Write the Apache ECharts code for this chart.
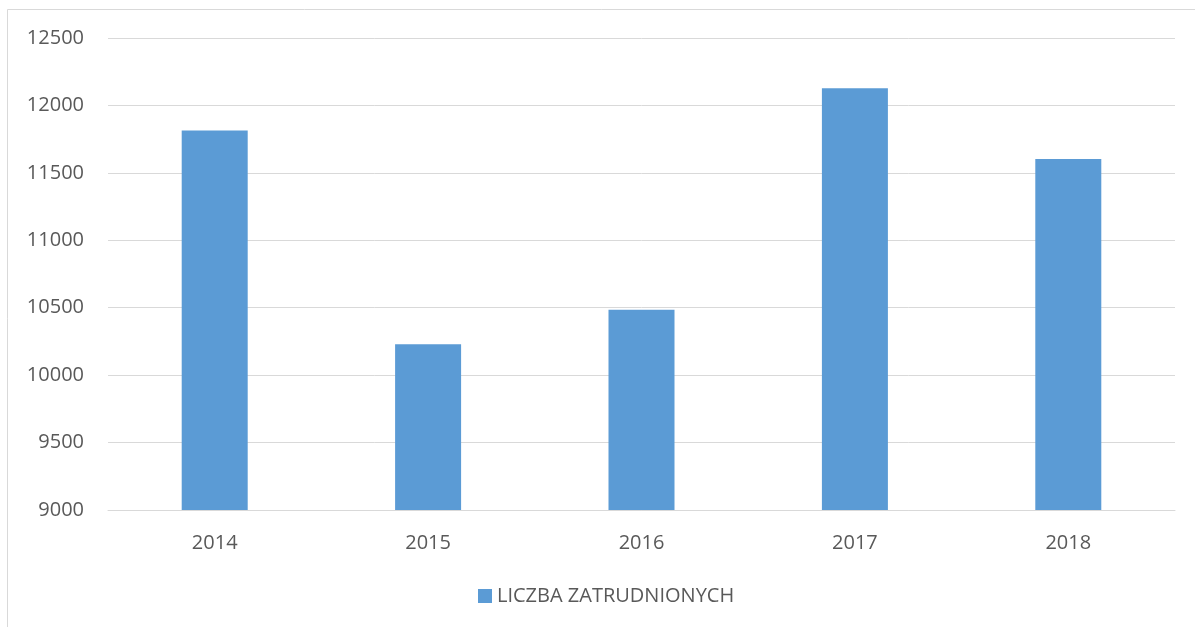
<!DOCTYPE html>
<html>
<head>
<meta charset="utf-8">
<script src="https://cdn.jsdelivr.net/npm/echarts@6/dist/echarts.min.js"></script>
<style>
  html, body { margin: 0; padding: 0; background: #ffffff; }
  #chart { width: 1195px; height: 627px; }
</style>
</head>
<body>
<div id="chart"></div>
<script>
// Employment counts by year
const years = ['2014', '2015', '2016', '2017', '2018'];
const employed = [11815, 10230, 10485, 12127, 11603];
const seriesName = 'LICZBA ZATRUDNIONYCH';

const FONT = '"Open Sans", Lato, sans-serif';
const TEXT_COLOR = '#595959';
const GRID_COLOR = '#D9D9D9';

const chart = echarts.init(document.getElementById('chart'), null, { renderer: 'canvas' });

chart.setOption({
  backgroundColor: '#ffffff',
  animation: false,
  graphic: [{
    type: 'rect',
    shape: { x: 7.5, y: 9.5, width: 1200, height: 640 },
    style: { fill: 'none', stroke: GRID_COLOR, lineWidth: 1 },
    silent: true,
    z: -1
  }],
  grid: { left: 108, right: 20, top: 38, bottom: 117, containLabel: false },
  legend: {
    left: 473,
    top: 581,
    icon: 'rect',
    itemWidth: 14,
    itemHeight: 14,
    itemGap: 8,
    textStyle: { color: TEXT_COLOR, fontFamily: FONT, fontSize: 20 },
    data: [seriesName]
  },
  xAxis: {
    type: 'category',
    data: years,
    axisLine: { show: true, lineStyle: { color: GRID_COLOR, width: 1 } },
    axisTick: { show: false },
    axisLabel: { color: TEXT_COLOR, fontFamily: FONT, fontSize: 20, margin: 23 }
  },
  yAxis: {
    type: 'value',
    min: 9000,
    max: 12500,
    interval: 500,
    axisLine: { show: false },
    axisTick: { show: false },
    axisLabel: {
      color: TEXT_COLOR, fontFamily: FONT, fontSize: 20, margin: 24,
      formatter: (v) => String(v)
    },
    splitLine: { lineStyle: { color: GRID_COLOR, width: 1 } }
  },
  series: [{
    name: seriesName,
    type: 'bar',
    data: employed,
    barWidth: 66,
    itemStyle: { color: '#5B9BD5' }
  }]
});
</script>
</body>
</html>
